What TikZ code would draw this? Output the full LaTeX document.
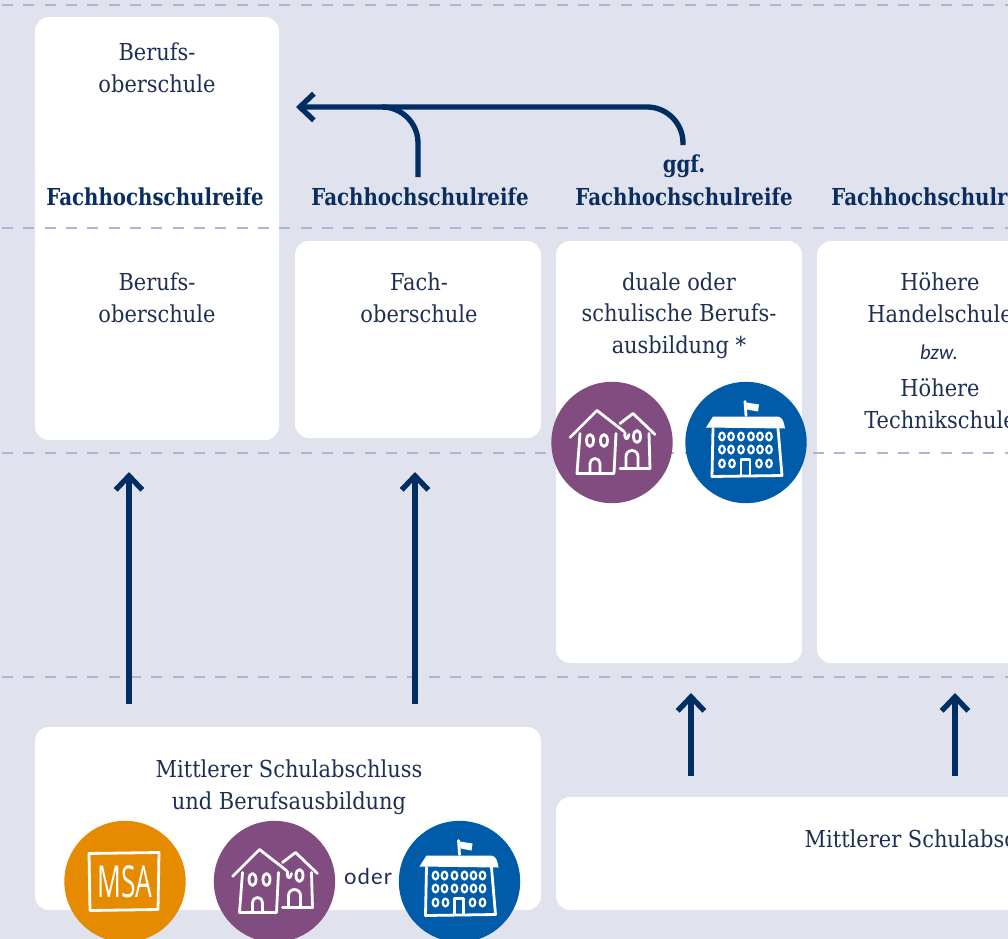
\documentclass[tikz,border=0pt]{standalone}
\usepackage{fontspec}
\usetikzlibrary{arrows.meta}
\setmainfont[FakeStretch=0.898,BoldFeatures={FakeStretch=0.848}]{DejaVu Serif}
\newfontfamily\lato{Lato}
\newfontfamily\latosp[LetterSpace=5]{Lato}
\newfontfamily\msafont[FakeStretch=0.6]{Open Sans}
\definecolor{bgc}{HTML}{E0E2EE}
\definecolor{dashc}{HTML}{B0B3D6}
\definecolor{txtc}{HTML}{1E2F52}
\definecolor{boldc}{HTML}{0A2E60}
\definecolor{arrc}{HTML}{002D62}
\definecolor{purp}{HTML}{814D80}
\definecolor{blu}{HTML}{005CA9}
\definecolor{ora}{HTML}{E68A00}
\tikzset{
  x=0.75pt,y=-0.75pt,
  wbox/.style={fill=white,rounded corners=10.5pt},
  sep/.style={draw=dashc,line width=2.1pt,dash pattern=on 8.2pt off 7.8pt},
  lab/.style={text=txtc,align=center,inner sep=0pt,font=\fontsize{17.5}{23.7}\selectfont},
  blab/.style={text=boldc,align=center,inner sep=0pt,font=\fontsize{17.5}{23.7}\selectfont\bfseries},
  arr/.style={draw=arrc,line width=4pt,-{Straight Barb[length=10.5pt,width=20pt,line width=4pt]}},
  arrplain/.style={draw=arrc,line width=4pt},
  ink/.style={draw=white,line width=2.1pt,line cap=round,line join=round},
  winkk/.style={draw=white,line width=1.6pt},
  houses/.pic={
    \draw[ink] (-42,-5)--(-15,-32)--(12,-11);
    \draw[ink] (-32,-9)--(-35,31)--(2,31)--(4,-9);
    \draw[ink] (-22,-2) ellipse (3.5 and 6) (-8,-2) ellipse (3.5 and 6);
    \draw[ink] (-22,31)--(-22,21) arc (180:360:5) --(-12,31);
    \draw[ink] (8,-19)--(21,-29)--(43,-8);
    \draw[ink] (37,-9)--(38,26)--(8,26);
    \draw[ink] (13,-10) .. controls (12,-2) and (16,-2) .. (17,-8);
    \draw[ink] (25,-6) ellipse (3.5 and 6);
    \draw[ink] (14,26)--(14,14) arc (180:360:6) --(26,26);
  },
  school/.pic={
    \fill[white] (-40,-15)--(-33,-26)--(32,-26) .. controls (37,-25) and (38,-20) .. (39,-14) --cycle;
    \draw[ink] (-1,-41)--(0,-27);
    \fill[white] (0,-40)--(13,-38)--(12,-31)--(1,-33)--cycle;
    \draw[ink] (-33,-14)--(-34,34)--(36,33)--(32,-14);
    \foreach \wx in {-24,-15,-5,5,14,23}{
      \draw[winkk] (\wx,-6) ellipse (2.8 and 3.9) (\wx,7) ellipse (2.8 and 3.9);}
    \foreach \wx in {-24,-14,13,23}{
      \draw[winkk] (\wx,21) ellipse (2.8 and 3.9);}
    \draw[ink] (-5,33)--(-5,17)--(4,17)--(4,33);
  },
  msa/.pic={
    \draw[ink] (-36,-28)--(34,-29)--(33,28)--(-35,29)--cycle;
    \node[inner sep=0pt,text=white,font=\msafont\fontsize{33}{33}\selectfont] (msatext) at (0,0) {MSA};
  }
}
\begin{document}
\begin{tikzpicture}
\clip (0,0) rectangle (1008,939);
\fill[bgc] (0,0) rectangle (1008,939);
% boxes
\fill[wbox] (35,17) rectangle (279,440);
\fill[wbox] (295,241) rectangle (541,438);
\fill[wbox] (556,241) rectangle (802,663);
\fill[wbox] (817,241) rectangle (1040,663);
\fill[wbox] (35,727) rectangle (541,910);
\fill[wbox] (556,797) rectangle (1040,910);
% separators
\foreach \sy in {5,228,453,677}{\draw[sep] (2,\sy)--(1008,\sy);}
% icons
\node[circle,fill=purp,minimum size=91pt,inner sep=0pt] (c1) at (612,442.5) {};
\node[circle,fill=blu,minimum size=91pt,inner sep=0pt] (c2) at (746,442.5) {};
\node[circle,fill=ora,minimum size=91pt,inner sep=0pt] (c3) at (125,881.5) {};
\node[circle,fill=purp,minimum size=91pt,inner sep=0pt] (c4) at (274.5,881.5) {};
\node[circle,fill=blu,minimum size=91pt,inner sep=0pt] (c5) at (459.5,881.5) {};
\pic at (c1) {houses};
\pic at (c2) {school};
\pic at (c3) {msa};
\pic at (c4) {houses};
\pic at (c5) {school};
% labels
\node[lab] (t1) at (157,68) {Berufs-\\oberschule};
\node[blab] (f1) at (155,197) {Fachhochschulreife};
\node[blab] (f2) at (420,197) {Fachhochschulreife};
\node[blab] (ggf) at (684,166) {ggf.};
\node[blab] (f3) at (684,197) {Fachhochschulreife};
\node[blab] (f4) at (940,197) {Fachhochschulreife};
\node[lab] (t2) at (157,298) {Berufs-\\oberschule};
\node[lab] (t3) at (419,298) {Fach-\\oberschule};
\node[lab] (t4) at (679,315.5) {duale oder\\schulische Berufs-\\ausbildung *};
\node[lab] (t5) at (940,298) {Höhere\\Handelschule};
\node[text=txtc,inner sep=0pt,font=\lato\itshape\fontsize{15}{18}\selectfont] (t6) at (939,352) {bzw.};
\node[lab] (t7) at (940,404) {Höhere\\Technikschule};
\node[lab] (t8) at (289,787.5) {Mittlerer Schulabschluss\\und Berufsausbildung};
\node[lab] (t9) at (938,839) {Mittlerer Schulabschluss};
\node[text=txtc,inner sep=0pt,font=\latosp\fontsize{16.5}{20}\selectfont] (oder) at (368,876) {oder};
% connectors
\coordinate (a1s) at (129,704); \coordinate (a1e) at (129,472);
\coordinate (a2s) at (415,704); \coordinate (a2e) at (415,472);
\coordinate (a3s) at (691,776); \coordinate (a3e) at (691,693);
\coordinate (a4s) at (955,776); \coordinate (a4e) at (955,693);
\coordinate (m1) at (683,145); \coordinate (m2) at (418,177); \coordinate (mend) at (296,107);
\draw[arr] (a1s)--(a1e);
\draw[arr] (a2s)--(a2e);
\draw[arr] (a3s)--(a3e);
\draw[arr] (a4s)--(a4e);
\draw[arrplain] (m2) -- (418,143) arc (0:-90:36);
\draw[arr] (m1) -- (683,143) arc (0:-90:36) -- (mend);
\end{tikzpicture}
\end{document}
